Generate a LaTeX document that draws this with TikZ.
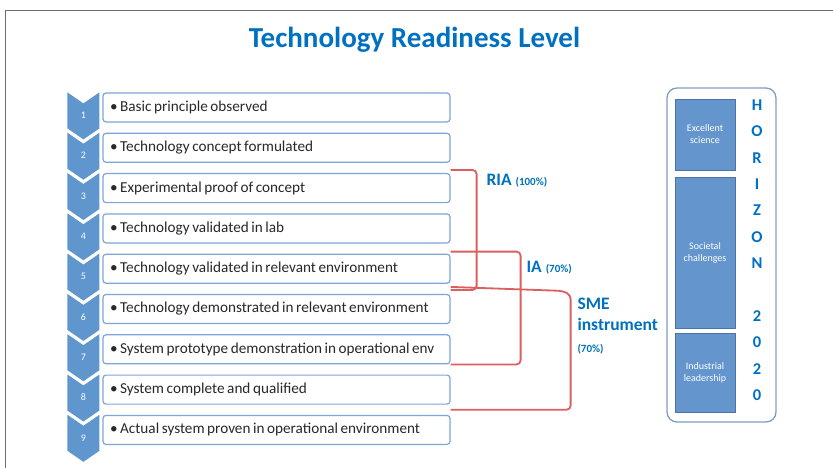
\documentclass[tikz,border=0pt]{standalone}
\usepackage{fontspec}
\setmainfont{Carlito}
\usetikzlibrary{arrows}

\definecolor{trlblue}{RGB}{0,112,192}
\definecolor{chevblue}{RGB}{95,150,205}
\definecolor{boxline}{RGB}{125,165,215}
\definecolor{bracketred}{RGB}{220,95,95}
\definecolor{pillarfill}{RGB}{100,150,205}
\definecolor{pillarline}{RGB}{75,115,165}
\definecolor{framegrey}{RGB}{110,110,110}
\definecolor{textgrey}{RGB}{40,40,40}

\begin{document}
\begin{tikzpicture}[x=1pt,y=1pt,node distance=40.3pt,
	level/.style={draw=boxline,line width=1.2pt,fill=white,rounded corners=3pt,minimum width=347pt,minimum height=29pt,text width=333pt,inner xsep=7pt,align=left,text=textgrey,font=\fontsize{15.2}{17}\selectfont,execute at begin node={\spaceskip=2.6pt plus 1pt minus 0.5pt\relax}},
	chev/.style={fill=chevblue},
	num/.style={text=white,font=\fontsize{10}{11}\selectfont},
	bracket/.style={draw=bracketred,line width=1.8pt,rounded corners=4pt},
	prog/.style={text=trlblue,anchor=west,font=\bfseries\fontsize{17.5}{20}\selectfont},
	pillar/.style={draw=pillarline,fill=pillarfill,minimum width=60pt,text=white,align=center,font=\fontsize{10}{12}\selectfont},
	letter/.style={text=trlblue,font=\bfseries\fontsize{16.5}{18}\selectfont}]
			\useasboundingbox (0,0) rectangle (833,-468);
			\draw[framegrey,line width=1pt] (833,-10.5) -- (5,-10.5) -- (5,-468);
			\node[text=trlblue,font=\bfseries\fontsize{29}{32}\selectfont] (title) at (414.5,-40) {Technology Readiness Level};
			\node[level            ] (b1) at (276.5,-107.5) {\textbullet\ Basic principle observed};
			\node[level, below of=b1] (b2) {\textbullet\ Technology concept formulated};
			\node[level, below of=b2] (b3) {\textbullet\ Experimental proof of concept};
			\node[level, below of=b3] (b4) {\textbullet\ Technology validated in lab};
			\node[level, below of=b4] (b5) {\textbullet\ Technology validated in relevant environment};
			\node[level, below of=b5] (b6) {\textbullet\ Technology demonstrated in relevant environment};
			\node[level, below of=b6] (b7) {\textbullet\ System prototype demonstration in operational env};
			\node[level, below of=b7] (b8) {\textbullet\ System complete and qualified};
			\node[level, below of=b8] (b9) {\textbullet\ Actual system proven in operational environment};
			\foreach \i in {1,...,9} {
				\fill[chev,shift={(b\i.north west)}] (-35,0) -- (-19,-11) -- (-3,0) -- (-3,-36) -- (-19,-47) -- (-35,-36) -- cycle;
				\node[num] (n\i) at ([shift={(-19pt,-23pt)}]b\i.north west) {\i};
			}
			\draw[bracket] ([yshift=3pt]b3.north east) -- ++(26,0) |- ([yshift=4pt]b6.north east);
			\draw[bracket] ([yshift=2pt]b5.north east) -- ++(70,0) |- (b7.south east);
			\draw[bracket] ([yshift=7pt]b6.north east) -- ++(112,-4) -- ++(8,-4) |- ([yshift=-5pt]b8.south east);
			\node[prog] (ria) at (483,-181) {RIA {\fontsize{11}{12}\selectfont(100\%)}};
			\node[prog] (ia)  at (523,-268) {IA {\fontsize{11}{12}\selectfont(70\%)}};
			\node[prog,align=left,font=\bfseries\fontsize{17.5}{21.5}\selectfont] (sme) at (574,-326) {SME\\instrument\\{\fontsize{11}{12}\selectfont(70\%)}};
			\node[draw=pillarline!70,line width=1.3pt,rounded corners=10pt,minimum width=109pt,minimum height=334pt] (h2020) at (721.5,-255) {};
			\node[pillar,minimum height=71pt ] (exc) at (705,-134.5) {Excellent\\science};
			\node[pillar,minimum height=151pt] (soc) at (705,-252.5) {Societal\\challenges};
			\node[pillar,minimum height=79pt ] (ind) at (705,-372.5) {Industrial\\leadership};
			\foreach \l/\k in {H/0,O/1,R/2,I/3,Z/4,O/5,N/6,2/8,0/9,2/10,0/11}
				\node[letter] (h\k) at (757,{-105-26.36*\k}) {\l};
\end{tikzpicture}
\end{document}
